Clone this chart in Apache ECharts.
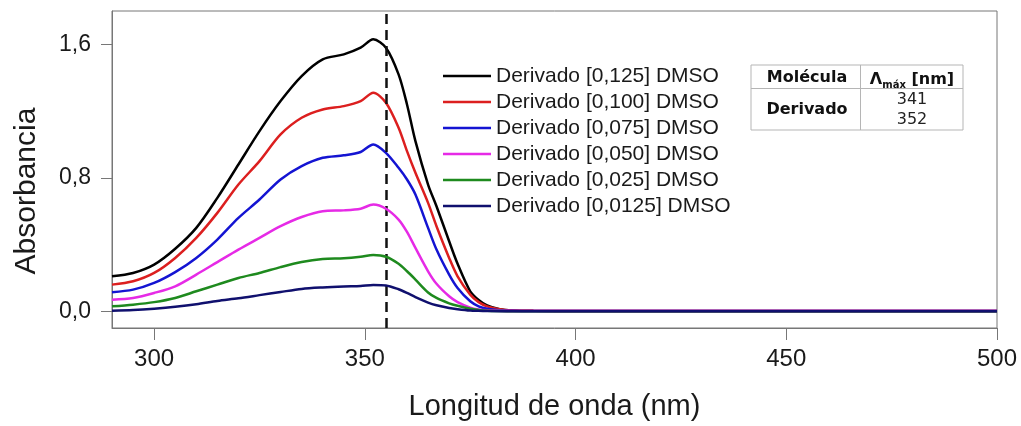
<!DOCTYPE html>
<html>
<head>
<meta charset="utf-8">
<script src="https://cdn.jsdelivr.net/npm/echarts@6/dist/echarts.min.js"></script>
<style>
  html, body { margin: 0; padding: 0; background: #ffffff; }
  #chart { width: 1021px; height: 426px; }
</style>
</head>
<body>
<div id="chart"></div>
<script>
// ---- data ----
const wavelengths = [290,295,300,305,310,315,320,325,330,335,340,345,349,352,355,358,360,362,365,367,370,372,375,377,379,382,385,390,400,450,500];
const seriesNames = ['Derivado [0,125] DMSO','Derivado [0,100] DMSO','Derivado [0,075] DMSO','Derivado [0,050] DMSO','Derivado [0,025] DMSO','Derivado [0,0125] DMSO'];
const abs0125 = [0.21,0.23,0.28,0.375,0.50,0.68,0.88,1.08,1.26,1.41,1.51,1.54,1.58,1.63,1.58,1.42,1.24,1.02,0.76,0.63,0.42,0.285,0.12,0.068,0.035,0.012,0.005,0.003,0.002,0.002,0.002];
const abs0100 = [0.16,0.18,0.23,0.32,0.44,0.59,0.76,0.90,1.06,1.16,1.21,1.23,1.26,1.31,1.25,1.10,0.96,0.83,0.65,0.51,0.32,0.21,0.10,0.055,0.03,0.012,0.005,0.003,0.002,0.002,0.002];
const abs0075 = [0.115,0.13,0.17,0.235,0.32,0.43,0.56,0.67,0.79,0.87,0.92,0.935,0.955,1.00,0.95,0.86,0.79,0.70,0.50,0.37,0.22,0.14,0.06,0.03,0.015,0.006,0.003,0.002,0.002,0.002,0.002];
const abs0050 = [0.07,0.08,0.11,0.15,0.22,0.295,0.37,0.44,0.51,0.565,0.60,0.605,0.615,0.64,0.615,0.55,0.476,0.38,0.24,0.165,0.09,0.055,0.022,0.011,0.006,0.003,0.002,0.002,0.002,0.002,0.002];
const abs0025 = [0.03,0.04,0.055,0.08,0.12,0.16,0.20,0.23,0.265,0.295,0.313,0.318,0.327,0.337,0.327,0.285,0.24,0.19,0.113,0.08,0.048,0.033,0.015,0.008,0.004,0.002,0.001,0.001,0.001,0.001,0.001];
const abs00125 = [0.004,0.008,0.016,0.027,0.042,0.062,0.078,0.097,0.116,0.134,0.143,0.149,0.152,0.158,0.155,0.132,0.11,0.085,0.052,0.036,0.02,0.013,0.005,0.003,0.002,0.001,0.001,0.001,0.001,0.001,0.001];
const xTicks = [300,350,400,450,500];
const yTicks = [0.0,0.8,1.6];
const markerWavelength = 355;
const tableHeader = ['Molécula','Λmáx [nm]'];
const tableMolecule = 'Derivado';
const tableValues = ['341','352'];

const colors = ['#000000','#dc1f1f','#1414d2','#e62ae6','#1e8a1e','#10106e'];
const allSeries = [abs0125, abs0100, abs0075, abs0050, abs0025, abs00125];

const chart = echarts.init(document.getElementById('chart'), null, {renderer: 'canvas'});
const FONT = 'Liberation Sans, Arial, sans-serif';
const TFONT = 'DejaVu Sans, Verdana, sans-serif';

const series = allSeries.map((vals, i) => ({
  name: seriesNames[i],
  type: 'line',
  data: wavelengths.map((w, j) => [w, vals[j]]),
  showSymbol: false,
  symbol: 'none',
  smooth: 0.3,
  lineStyle: { color: colors[i], width: 2.5 },
  itemStyle: { color: colors[i] },
  z: 2 + i,
  markLine: i === 0 ? {
    silent: true,
    symbol: ['none','none'],
    label: { show: false },
    lineStyle: { color: '#111', width: 2.5, type: [10, 6] },
    data: [{ xAxis: markerWavelength }]
  } : undefined
}));

const option = {
  animation: false,
  backgroundColor: '#ffffff',
  grid: { left: 112, right: 24, top: 11, bottom: 96, show: true, borderColor: '#777', borderWidth: 1 },
  xAxis: {
    type: 'value', min: 290, max: 500,
    name: 'Longitud de onda (nm)', nameLocation: 'middle', nameGap: 64,
    nameTextStyle: { fontFamily: FONT, fontSize: 29, color: '#1a1a1a' },
    axisLine: { show: true, onZero: false, lineStyle: { color: '#777', width: 1 } },
    axisTick: { show: true, inside: false, length: 12, customValues: xTicks, lineStyle: { color: '#777' } },
    axisLabel: { customValues: xTicks, margin: 19, fontFamily: FONT, fontSize: 24, color: '#1a1a1a' },
    splitLine: { show: false }
  },
  yAxis: {
    type: 'value', min: -0.1, max: 1.8,
    axisLine: { show: true, onZero: false, lineStyle: { color: '#777', width: 1 } },
    axisTick: { show: true, inside: false, length: 11, customValues: yTicks, lineStyle: { color: '#777' } },
    axisLabel: { customValues: yTicks, margin: 21, fontFamily: FONT, fontSize: 23, color: '#1a1a1a',
      formatter: v => v.toFixed(1).replace('.', ',') },
    splitLine: { show: false }
  },
  legend: {
    orient: 'vertical', left: 438, top: 58,
    icon: 'rect', itemWidth: 48, itemHeight: 2.5, itemGap: 0,
    textStyle: { fontFamily: FONT, fontSize: 21, color: '#1a1a1a', lineHeight: 26 },
    data: seriesNames
  },
  graphic: [
    { type: 'text', x: 27, y: 191, rotation: Math.PI / 2,
      style: { text: 'Absorbancia', fontFamily: FONT, fontSize: 30, fill: '#1a1a1a', align: 'center', verticalAlign: 'middle' } },
    { type: 'rect', shape: { x: 751, y: 65, width: 212, height: 65 },
      style: { fill: '#ffffff', stroke: '#b5b5b5', lineWidth: 1 } },
    { type: 'line', shape: { x1: 751, y1: 88.5, x2: 963, y2: 88.5 }, style: { stroke: '#b5b5b5', lineWidth: 1 } },
    { type: 'line', shape: { x1: 860.5, y1: 65, x2: 860.5, y2: 130 }, style: { stroke: '#b5b5b5', lineWidth: 1 } },
    { type: 'text', x: 807, y: 77.5,
      style: { text: tableHeader[0], fontFamily: TFONT, fontWeight: 'bold', fontSize: 16, fill: '#111', align: 'center', verticalAlign: 'middle' } },
    { type: 'text', x: 912, y: 77.5,
      style: { text: '{a|Λ}{s|máx}{a| [nm]}', fontFamily: TFONT, align: 'center', verticalAlign: 'middle',
        rich: {
          a: { fontFamily: TFONT, fontWeight: 'bold', fontSize: 16, fill: '#111', lineHeight: 20, verticalAlign: 'bottom' },
          s: { fontFamily: TFONT, fontWeight: 'bold', fontSize: 10, fill: '#111', lineHeight: 12, verticalAlign: 'bottom', padding: [0,0,-3,0] }
        } } },
    { type: 'text', x: 807, y: 110,
      style: { text: tableMolecule, fontFamily: TFONT, fontWeight: 'bold', fontSize: 16, fill: '#111', align: 'center', verticalAlign: 'middle' } },
    { type: 'text', x: 912, y: 100,
      style: { text: tableValues[0], fontFamily: TFONT, fontSize: 16, fill: '#222', align: 'center', verticalAlign: 'middle' } },
    { type: 'text', x: 912, y: 120,
      style: { text: tableValues[1], fontFamily: TFONT, fontSize: 16, fill: '#222', align: 'center', verticalAlign: 'middle' } }
  ],
  series: series
};
chart.setOption(option);
</script>
</body>
</html>
